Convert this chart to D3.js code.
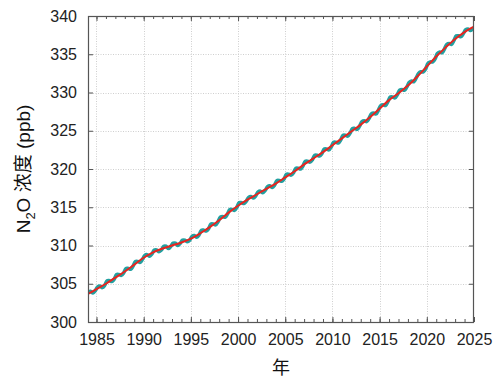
<!DOCTYPE html>
<html>
<head>
<meta charset="utf-8">
<script src="https://cdn.jsdelivr.net/npm/d3@7"></script>
<style>
  html, body { margin: 0; padding: 0; background: #fff; }
  svg { display: block; font-family: "Liberation Sans", Arial, "Noto Sans CJK SC", sans-serif; }
</style>
</head>
<body>
<svg id="chart" width="500" height="382"></svg>
<script>
// ---- data ----
const trendYears = [1984,1985,1986,1987,1988,1989,1990,1991,1992,1993,1994,1995,1996,1997,1998,1999,2000,2001,2002,2003,2004,2005,2006,2007,2008,2009,2010,2011,2012,2013,2014,2015,2016,2017,2018,2019,2020,2021,2022,2023,2024,2025];
const trendValues = [303.6,304.3,305.0,305.8,306.6,307.5,308.4,309.1,309.6,310.0,310.4,310.9,311.6,312.4,313.3,314.3,315.2,316.0,316.7,317.4,318.1,318.9,319.7,320.6,321.4,322.2,323.1,324.0,324.9,325.8,326.8,327.9,329.0,329.9,330.9,332.1,333.4,334.7,335.9,337.0,337.9,338.6];

// observed (seasonal) series, four readings per year, starting 1984
const obsStartYear = 1984;
const obsQuarterly = [
  [303.9,304.0,303.8,304.1],[304.6,304.7,304.5,304.8],[305.4,305.4,305.3,305.6],[306.2,306.2,306.1,306.4],
  [307.0,307.0,306.9,307.3],[307.9,307.9,307.8,308.2],[308.7,308.8,308.6,308.9],[309.4,309.4,309.2,309.4],
  [309.9,309.9,309.6,309.9],[310.3,310.3,310.0,310.3],[310.7,310.7,310.5,310.7],[311.2,311.3,311.1,311.4],
  [312.0,312.0,311.9,312.2],[312.8,312.8,312.7,313.1],[313.7,313.8,313.7,314.1],[314.7,314.7,314.6,315.0],
  [315.6,315.6,315.5,315.8],[316.3,316.4,316.2,316.5],[317.0,317.1,316.9,317.2],[317.7,317.8,317.6,317.9],
  [318.5,318.5,318.4,318.7],[319.3,319.3,319.2,319.5],[320.1,320.1,320.0,320.4],[321.0,321.0,320.9,321.2],
  [321.8,321.8,321.7,322.0],[322.6,322.6,322.5,322.9],[323.5,323.5,323.4,323.8],[324.4,324.4,324.3,324.7],
  [325.3,325.3,325.2,325.6],[326.2,326.3,326.2,326.6],[327.2,327.3,327.2,327.7],[328.3,328.4,328.3,328.8],
  [329.4,329.4,329.3,329.7],[330.3,330.4,330.3,330.7],[331.3,331.5,331.4,331.9],[332.5,332.7,332.7,333.1],
  [333.8,334.0,334.0,334.4],[335.1,335.3,335.2,335.7],[336.3,336.4,336.3,336.8],[337.4,337.4,337.3,337.7],
  [338.2,338.3,338.1,338.4]
];

const xTickValues = [1985,1990,1995,2000,2005,2010,2015,2020,2025];
const yTickValues = [300,305,310,315,320,325,330,335,340];
const xDomain = [1984.1, 2025];
const yDomain = [300, 340];
const xTitle = "年";

// ---- layout ----
const svg = d3.select("#chart");
const L = 88, R = 474, T = 16, B = 322;
const x = d3.scaleLinear().domain(xDomain).range([L, R]);
const y = d3.scaleLinear().domain(yDomain).range([B, T]);

const obs = [];
obsQuarterly.forEach((qs, i) => qs.forEach((v, q) => obs.push({t: obsStartYear + i + (q + 0.5) / 4, v})));
const trend = trendYears.map((t, i) => ({t, v: trendValues[i]}));
const minorYears = d3.range(1985, 2026);

// grid
const grid = svg.append("g").attr("stroke", "#cfcfcf").attr("stroke-width", 1).attr("stroke-dasharray", "1,1.5");
grid.selectAll(".gx").data(xTickValues.filter(d => d < 2025)).join("line")
  .attr("x1", d => Math.round(x(d)) + 0.5).attr("x2", d => Math.round(x(d)) + 0.5)
  .attr("y1", T).attr("y2", B);
grid.selectAll(".gy").data(yTickValues.filter(d => d > 300 && d < 340)).join("line")
  .attr("y1", d => Math.round(y(d)) + 0.5).attr("y2", d => Math.round(y(d)) + 0.5)
  .attr("x1", L).attr("x2", R);

// clip
svg.append("clipPath").attr("id", "clip").append("rect")
  .attr("x", L).attr("y", T).attr("width", R - L).attr("height", B - T);

const line = d3.line().x(d => x(d.t)).y(d => y(d.v)).curve(d3.curveCatmullRom);
const plot = svg.append("g").attr("clip-path", "url(#clip)");
plot.append("path").datum(obs).attr("d", line)
  .attr("fill", "none").attr("stroke", "#22a0a0").attr("stroke-width", 3.6).attr("stroke-linejoin", "round");
plot.append("path").datum(trend).attr("d", d3.line().x(d => x(d.t)).y(d => y(d.v)).curve(d3.curveMonotoneX))
  .attr("fill", "none").attr("stroke", "#e8241f").attr("stroke-width", 2);

// axes with inward ticks
const axisColor = "#555";
function styleAxis(g) {
  g.select(".domain").remove();
  g.selectAll(".tick line").attr("stroke", axisColor);
}
// bottom
svg.append("g").attr("transform", `translate(0,${B})`)
  .call(d3.axisBottom(x).tickValues(xTickValues).tickSize(-5).tickPadding(12).tickFormat(d3.format("d")))
  .call(styleAxis)
  .call(g => g.selectAll("text").attr("font-size", 16).attr("fill", "#222"));
svg.append("g").attr("transform", `translate(0,${B})`)
  .call(d3.axisBottom(x).tickValues(minorYears).tickSize(-3).tickFormat(""))
  .call(styleAxis);
// top
svg.append("g").attr("transform", `translate(0,${T})`)
  .call(d3.axisTop(x).tickValues(xTickValues).tickSize(-5).tickFormat(""))
  .call(styleAxis);
svg.append("g").attr("transform", `translate(0,${T})`)
  .call(d3.axisTop(x).tickValues(minorYears).tickSize(-3).tickFormat(""))
  .call(styleAxis);
// left
svg.append("g").attr("transform", `translate(${L},0)`)
  .call(d3.axisLeft(y).tickValues(yTickValues).tickSize(-5).tickPadding(11).tickFormat(d3.format("d")))
  .call(styleAxis)
  .call(g => g.selectAll("text").attr("font-size", 16).attr("fill", "#222"));
// right
svg.append("g").attr("transform", `translate(${R},0)`)
  .call(d3.axisRight(y).tickValues(yTickValues).tickSize(-5).tickFormat(""))
  .call(styleAxis);

// frame
svg.append("rect").attr("x", L + 0.5).attr("y", T + 0.5).attr("width", R - L - 1).attr("height", B - T)
  .attr("fill", "none").attr("stroke", axisColor).attr("stroke-width", 1.2);

// titles
svg.append("text").attr("x", (L + R) / 2).attr("y", 374).attr("text-anchor", "middle")
  .attr("font-size", 18).attr("font-family", "'Noto Sans CJK SC', sans-serif").attr("fill", "#111").text(xTitle);

const yt = svg.append("text").attr("transform", `translate(30,${(T + B) / 2}) rotate(-90)`)
  .attr("text-anchor", "middle").attr("font-size", 19).attr("fill", "#111");
yt.append("tspan").text("N");
yt.append("tspan").attr("font-size", 13).attr("dy", 5).text("2");
yt.append("tspan").attr("dy", -5).text("O ");
yt.append("tspan").attr("font-family", "'Noto Sans CJK SC', sans-serif").text("浓度");
yt.append("tspan").text(" (ppb)");
</script>
</body>
</html>
